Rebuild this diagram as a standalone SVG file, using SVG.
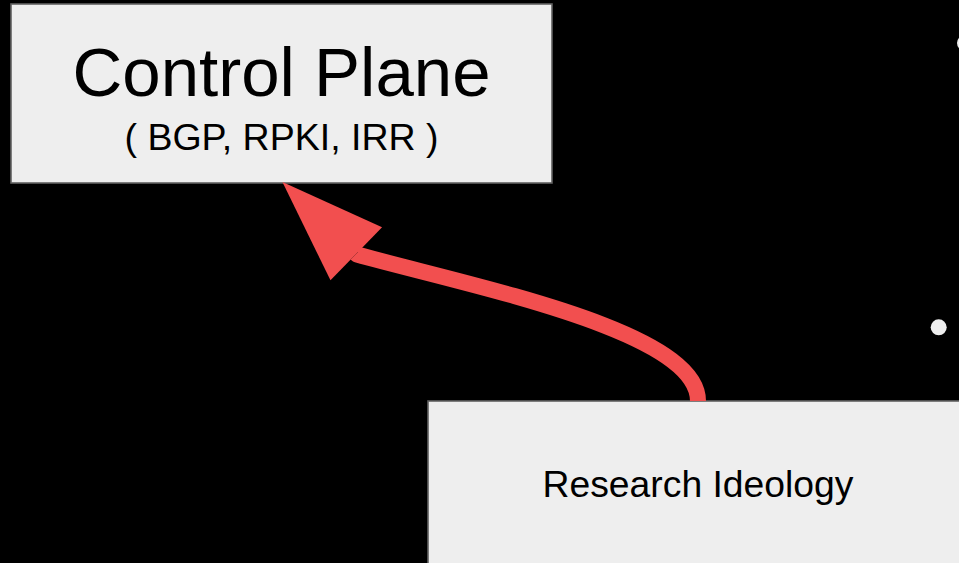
<svg xmlns="http://www.w3.org/2000/svg" width="959" height="563" viewBox="0 0 959 563">
<style>
.node{fill:#eeeeee;stroke:#616161;stroke-width:1.6}
.t{font-family:"Liberation Sans",Arial,sans-serif;fill:#000;text-anchor:middle}
.dot{fill:#eeeeee}
.conn{fill:none;stroke:#f24f4f;stroke-width:16;stroke-linecap:butt;stroke-linejoin:round}
</style>
<defs>
<marker id="ah" markerUnits="userSpaceOnUse" orient="auto" refX="0" refY="0" markerWidth="120" markerHeight="90" viewBox="0 -45 120 90" overflow="visible">
<path d="M0,-37 L103,0 L0,37 Z" fill="#f24f4f"/>
</marker>
</defs>
<rect width="959" height="563" fill="#000"/>
<g id="dots">
<circle class="dot" cx="965" cy="43" r="8"/>
<circle class="dot" cx="938.7" cy="327.3" r="8"/>
</g>
<g id="control-plane">
<rect class="node" x="11" y="4" width="541" height="179"/>
<text class="t" x="281.5" y="96" font-size="69">Control Plane</text>
<text class="t" x="281.5" y="150" font-size="37.5">( BGP, RPKI, IRR )</text>
</g>
<g id="research-ideology">
<rect class="node" x="428" y="401" width="560" height="200"/>
<text class="t" x="698" y="497" font-size="37.3">Research Ideology</text>
</g>
<g id="connectors">
<path class="conn" d="M698,401 C698,331 477,287.6 357,254.5 l-0.72,-0.7" marker-end="url(#ah)"/>
</g>
</svg>
